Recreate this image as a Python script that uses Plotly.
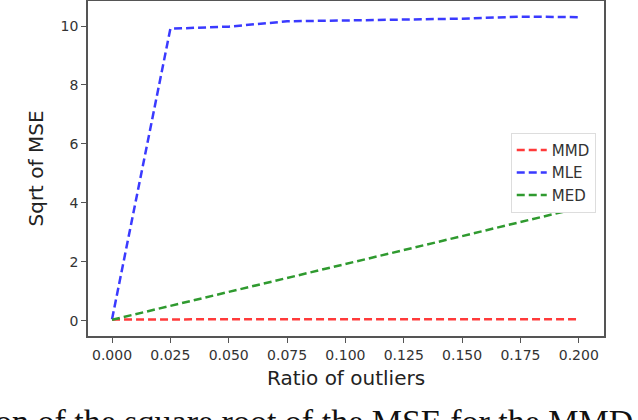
import plotly.graph_objects as go

# ratio of outliers and sqrt(MSE) per estimator
ratio = [0.0, 0.025, 0.05, 0.075, 0.1, 0.125, 0.15, 0.175, 0.2]
mmd = [0.04, 0.05, 0.05, 0.05, 0.05, 0.05, 0.05, 0.05, 0.05]
mle = [0.05, 9.91, 9.98, 10.16, 10.19, 10.22, 10.25, 10.32, 10.30]
med = [0.03, 0.50, 0.97, 1.44, 1.92, 2.40, 2.87, 3.35, 3.82]

x_ticks = [0.0, 0.025, 0.05, 0.075, 0.1, 0.125, 0.15, 0.175, 0.2]
x_ticktext = ['0.000', '0.025', '0.050', '0.075', '0.100', '0.125', '0.150', '0.175', '0.200']
y_ticks = [0, 2, 4, 6, 8, 10]

series = [('MMD', mmd, '#ff3a3a'), ('MLE', mle, '#3a3aff'), ('MED', med, '#2f9a2f')]

fig = go.Figure()
for name, vals, color in series:
    fig.add_trace(go.Scatter(
        x=ratio, y=vals, name=name, mode='lines',
        line=dict(color=color, width=2.5, dash='8px,4px')
    ))

axis_common = dict(
    showline=True, linecolor='#555', linewidth=1.5, mirror=True,
    showgrid=False, zeroline=False, automargin=False,
    ticks='outside', ticklen=5, tickwidth=1.2, tickcolor='#555',
    tickfont=dict(family='DejaVu Sans', size=14, color='#333'),
)

fig.update_layout(
    width=638, height=420,
    margin=dict(l=88, r=34, t=1, b=84),
    paper_bgcolor='white', plot_bgcolor='white',
    showlegend=True,
    legend=dict(
        x=0.984, y=0.607, xanchor='right', yanchor='top',
        bgcolor='white', bordercolor='#ddd', borderwidth=1,
        font=dict(family='DejaVu Sans', size=15, color='#333'),
        itemwidth=30,
    ),
    xaxis=dict(
        range=[-0.0103, 0.2108], tickvals=x_ticks, ticktext=x_ticktext,
        title=dict(text='Ratio of outliers', standoff=9,
                   font=dict(family='DejaVu Sans', size=20, color='#222')),
        **axis_common
    ),
    yaxis=dict(
        range=[-0.52, 10.85], tickvals=y_ticks,
        title=dict(text='Sqrt of MSE', standoff=12,
                   font=dict(family='DejaVu Sans', size=20, color='#222')),
        **axis_common
    ),
    # caption line of the paper, cut by the bottom edge as in the crop
    annotations=[dict(
        text='on of the square root of the MSE for the MMD',
        xref='paper', yref='paper', x=-0.184, y=-0.195,
        xanchor='left', yanchor='top', showarrow=False,
        font=dict(family='Liberation Serif', size=34, color='#111'),
    )],
)

# the page has a default 8px body margin; drop it so the figure fills the window
fig.write_html('out.html', config={'displayModeBar': False},
               post_script="document.body.style.margin='0';")
